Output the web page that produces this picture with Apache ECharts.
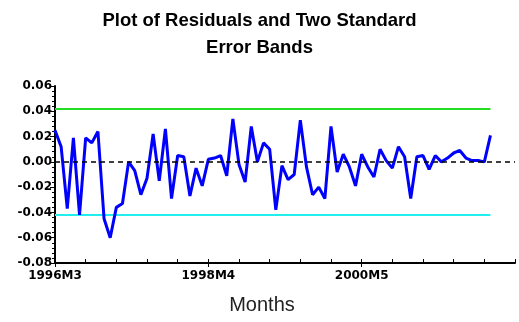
<!DOCTYPE html>
<html>
<head>
<meta charset="utf-8">
<script src="https://cdn.jsdelivr.net/npm/echarts@6/dist/echarts.min.js"></script>
<style>html,body{margin:0;padding:0;background:#fff;}#c{width:519px;height:322px;}</style>
</head>
<body>
<div id="c"></div>
<script>
// Month categories from 1996M3 to 2002M6
var startYear = 1996, startMonth = 3, nCategories = 76;
var categories = [];
for (var k = 0; k < nCategories; k++) {
  var m = startMonth - 1 + k;
  categories.push((startYear + Math.floor(m / 12)) + 'M' + (m % 12 + 1));
}
var tickLabels = ['1996M3', '1998M4', '2000M5'];
var residuals = [
  0.025, 0.012, -0.037, 0.019, -0.042, 0.019, 0.015, 0.024, -0.045, -0.060,
  -0.036, -0.033, 0.000, -0.007, -0.026, -0.013, 0.022, -0.015, 0.026, -0.029,
  0.005, 0.004, -0.027, -0.005, -0.019, 0.002, 0.003, 0.005, -0.011, 0.034,
  -0.002, -0.016, 0.028, 0.000, 0.015, 0.010, -0.038, -0.003, -0.014, -0.010,
  0.033, -0.004, -0.026, -0.020, -0.029, 0.028, -0.008, 0.006, -0.004, -0.019,
  0.006, -0.004, -0.012, 0.010, 0.001, -0.005, 0.012, 0.004, -0.029, 0.004,
  0.005, -0.006, 0.005, 0.000, 0.003, 0.007, 0.009, 0.003, 0.001, 0.001,
  0.000, 0.021
];
var upperBand = 0.042;
var lowerBand = -0.042;

var lastCat = categories[residuals.length - 1];
var chart = echarts.init(document.getElementById('c'), null, {renderer: 'canvas'});
chart.setOption({
  animation: false,
  backgroundColor: '#fff',
  title: {
    text: 'Plot of Residuals and Two Standard\nError Bands',
    left: 'center', top: 2,
    textStyle: {fontFamily: 'Liberation Sans, Arial', fontWeight: 'bold', fontSize: 18.5, lineHeight: 27, color: '#000'}
  },
  grid: {left: 55, right: 4, top: 86, bottom: 59},
  xAxis: [{
    type: 'category', data: categories, boundaryGap: false,
    name: 'Months', nameLocation: 'middle', nameGap: 32,
    nameTextStyle: {fontFamily: 'Liberation Sans, Arial', fontSize: 20, color: '#222', padding: [0, 46, 0, 0]},
    axisLine: {onZero: false, lineStyle: {color: '#000', width: 2}},
    axisTick: {inside: true, length: 4, interval: function (i) { return i % 5 === 0; }, lineStyle: {color: '#000', width: 1}},
    axisLabel: {
      interval: function (i, v) { return tickLabels.indexOf(v) >= 0; },
      fontFamily: 'DejaVu Sans', fontSize: 12, fontWeight: 'bold', color: '#000', margin: 7
    },
    splitLine: {show: false}
  }, {
    type: 'category', data: categories, boundaryGap: false, position: 'bottom',
    axisLine: {show: false, onZero: false},
    axisTick: {inside: false, length: 4, interval: function (i, v) { return tickLabels.indexOf(v) >= 0; }, lineStyle: {color: '#000', width: 1}},
    axisLabel: {show: false}, splitLine: {show: false}
  }],
  yAxis: {
    type: 'value', min: -0.08, max: 0.06, interval: 0.02,
    axisLine: {show: true, lineStyle: {color: '#000', width: 2}},
    axisTick: {show: true, inside: false, length: 5, lineStyle: {color: '#000', width: 1}},
    minorTick: {show: true, splitNumber: 5, length: 3, lineStyle: {color: '#000', width: 1}},
    axisLabel: {
      fontFamily: 'DejaVu Sans', fontSize: 12, fontWeight: 'bold', color: '#000', margin: 3,
      formatter: function (v) { return v.toFixed(2); }
    },
    splitLine: {show: false}
  },
  series: [{
    type: 'line', data: residuals, symbol: 'none', z: 3,
    lineStyle: {color: '#0000ff', width: 3},
    markLine: {
      silent: true, symbol: 'none', label: {show: false}, z: 2,
      data: [
        [{coord: [categories[0], upperBand], lineStyle: {color: '#22dd22', width: 2, type: 'solid'}},
         {coord: [lastCat, upperBand]}],
        [{coord: [categories[0], lowerBand], lineStyle: {color: '#22eeee', width: 2, type: 'solid'}},
         {coord: [lastCat, lowerBand]}]
      ]
    }
  }, {
    type: 'line', data: [], z: 4,
    markLine: {
      silent: true, symbol: 'none', label: {show: false},
      lineStyle: {color: '#000', width: 1.5, type: [5, 4]},
      data: [{yAxis: 0}]
    }
  }]
});
</script>
</body>
</html>
